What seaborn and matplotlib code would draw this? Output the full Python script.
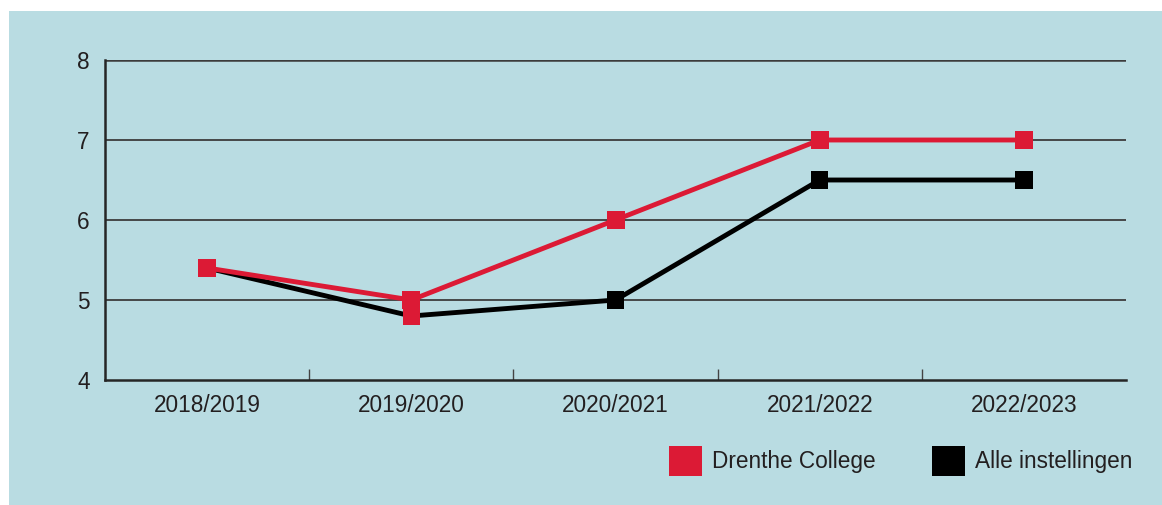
import matplotlib
matplotlib.use("Agg")
import matplotlib.pyplot as plt
import seaborn as sns
import pandas as pd
from matplotlib.patches import Rectangle, Patch
from matplotlib.ticker import FixedLocator

# Data
years = ["2018/2019", "2019/2020", "2020/2021", "2021/2022", "2022/2023"]
drenthe = [5.4, 5.0, 6.0, 7.0, 7.0]
alle = [5.4, 4.8, 5.0, 6.5, 6.5]
series_names = ["Drenthe College", "Alle instellingen"]
y_ticks = [4, 5, 6, 7, 8]

RED = "#DC1A35"
BLACK = "#000000"
PANEL = "#B9DCE2"
TEXT = "#231F20"
GRID = "#3C3C3C"

sns.set_theme(style="white")
plt.rcParams["font.family"] = ["Liberation Sans", "DejaVu Sans"]

df = pd.DataFrame({
    "jaar": years * 2,
    "x": list(range(len(years))) * 2,
    "score": drenthe + alle,
    "reeks": [series_names[0]] * len(years) + [series_names[1]] * len(years),
})

fig = plt.figure(figsize=(11.62, 5.05), dpi=100, facecolor="white")
# light blue panel behind the chart
panel = Rectangle((9 / 1162, 0), 1 - 9 / 1162, 1 - 11 / 505,
                  transform=fig.transFigure, facecolor=PANEL,
                  edgecolor="none", zorder=-10)
fig.patches.append(panel)

ax = fig.add_axes([105 / 1162, 125 / 505, (1126 - 105) / 1162, 320 / 505])
ax.set_zorder(5)
ax.set_facecolor("none")

palette = {series_names[0]: RED, series_names[1]: BLACK}

# lines: black first, red on top
sns.lineplot(data=df, x="x", y="score", hue="reeks", hue_order=series_names[::-1],
             palette=palette, linewidth=3.5, legend=False, ax=ax, zorder=3)

# square markers
alle_marker_colors = [BLACK, RED, BLACK, BLACK, BLACK]
ax.scatter(range(len(years)), alle, marker="s", s=12.4 ** 2,
           c=alle_marker_colors, linewidths=0, zorder=4)
sns.scatterplot(x=list(range(len(years))), y=drenthe, marker="s", s=12.4 ** 2,
                color=RED, linewidth=0, ax=ax, zorder=5, legend=False)

ax.set_xlim(-0.5, len(years) - 0.5)
ax.set_ylim(4, 8)
ax.set_yticks(y_ticks)
ax.set_yticklabels([str(v) for v in y_ticks])
ax.set_xticks(range(len(years)))
ax.set_xticklabels(years)
ax.xaxis.set_minor_locator(FixedLocator([i + 0.5 for i in range(len(years) - 1)]))

ax.tick_params(axis="x", which="major", length=0, pad=10, labelsize=16.3, labelcolor=TEXT)
ax.tick_params(axis="x", which="minor", direction="in", length=8, width=1,
               color="#444444", bottom=True)
ax.tick_params(axis="y", which="major", length=0, pad=11, labelsize=16.3, labelcolor=TEXT)

for v in y_ticks[1:]:
    ax.axhline(v, color=GRID, linewidth=1.3 if v < 8 else 1.8, zorder=1)

for side in ["top", "right"]:
    ax.spines[side].set_visible(False)
for side in ["left", "bottom"]:
    ax.spines[side].set_color("#262626")
    ax.spines[side].set_linewidth(1.8)
ax.set_xlabel("")
ax.set_ylabel("")

handles = [Patch(facecolor=RED, edgecolor="none"), Patch(facecolor=BLACK, edgecolor="none")]
leg = fig.legend(handles, series_names, loc="center left",
                 bbox_to_anchor=(669 / 1162, 1 - 461 / 505), ncol=2, frameon=False,
                 fontsize=16.3, handlelength=1.46, handleheight=1.72, handletextpad=0.44,
                 columnspacing=2.5, borderpad=0, borderaxespad=0, labelcolor=TEXT)
leg.set_zorder(6)

fig.savefig("out.png", dpi=100, facecolor="white")
